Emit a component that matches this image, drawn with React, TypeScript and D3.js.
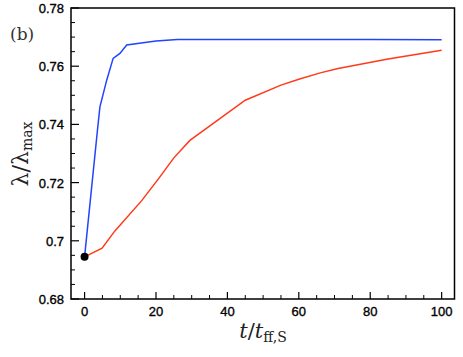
import React from 'react';
import * as d3 from 'd3';

// values
const blueT = [0, 3.6, 4.3, 6.2, 8.0, 9.9, 11.8, 20, 26, 40, 60, 80, 100];
const blueV = [0.6945, 0.7379, 0.746, 0.7552, 0.7627, 0.7644, 0.7673, 0.7687, 0.7692, 0.7692, 0.7692, 0.7692, 0.7691];

const redT = [0, 4.9, 8.5, 16, 21, 25, 29.5, 45, 55, 60, 66, 71, 85, 100];
const redV = [0.6945, 0.6975, 0.7034, 0.7138, 0.7218, 0.7285, 0.7345, 0.7483, 0.7535, 0.7555, 0.7577, 0.7592, 0.7625, 0.7655];

const xTicks = [0, 20, 40, 60, 80, 100];
const yTicks = [0.68, 0.7, 0.72, 0.74, 0.76, 0.78];
const yTickLabels = ['0.68', '0.7', '0.72', '0.74', '0.76', '0.78'];

const startPoint = { t: 0, v: 0.6945 };

const W = 463;
const H = 357;
const left = 71, right = 454.5, top = 8, bottom = 299;

export default function App() {
  const x = d3.scaleLinear().domain([-3.8, 103.6]).range([left, right]);
  const y = d3.scaleLinear().domain([0.68, 0.78]).range([bottom, top]);

  const line = d3.line<[number, number]>()
    .x(d => x(d[0]))
    .y(d => y(d[1]));

  const blue = blueT.map((t, i) => [t, blueV[i]] as [number, number]);
  const red = redT.map((t, i) => [t, redV[i]] as [number, number]);

  const xMinor = d3.range(5, 100, 5).filter(v => v % 20 !== 0);
  const yMinor = d3.range(0, 20).map(i => 0.68 + i * 0.005).filter((v, i) => i % 4 !== 0);

  const tickFont = 'Liberation Sans, Arial, sans-serif';
  const serif = 'DejaVu Serif, Liberation Serif, serif';

  return (
    <svg width={W} height={H} style={{ position: 'absolute', left: 0, top: 0, background: '#fff' }}>
      {/* ticks */}
      {xTicks.map(t => (
        <line key={'xt' + t} x1={x(t)} x2={x(t)} y1={bottom} y2={bottom - 7} stroke="#000" strokeWidth={1.2} />
      ))}
      {xMinor.map(t => (
        <line key={'xm' + t} x1={x(t)} x2={x(t)} y1={bottom} y2={bottom - 4} stroke="#000" strokeWidth={1} />
      ))}
      {yTicks.map(v => (
        <line key={'yt' + v} x1={left} x2={left + 8} y1={y(v)} y2={y(v)} stroke="#000" strokeWidth={1.2} />
      ))}
      {yMinor.map(v => (
        <line key={'ym' + v} x1={left} x2={left + 4} y1={y(v)} y2={y(v)} stroke="#000" strokeWidth={1} />
      ))}

      {/* tick labels */}
      {xTicks.map(t => (
        <text key={'xl' + t} x={x(t)} y={bottom + 17} textAnchor="middle" fontFamily={tickFont} fontSize={13} fill="#000" stroke="#000" strokeWidth={0.35}>{t}</text>
      ))}
      {yTicks.map((v, i) => (
        <text key={'yl' + v} x={left - 7} y={y(v) + 5} textAnchor="end" fontFamily={tickFont} fontSize={13} fill="#000" stroke="#000" strokeWidth={0.35}>{yTickLabels[i]}</text>
      ))}

      {/* series */}
      <path d={line(red) ?? ''} fill="none" stroke="#ff3a1a" strokeWidth={1.5} />
      <path d={line(blue) ?? ''} fill="none" stroke="#2244ff" strokeWidth={1.5} />
      <circle cx={x(startPoint.t)} cy={y(startPoint.v)} r={4} fill="#000" />

      {/* frame */}
      <rect x={left} y={top} width={right - left} height={bottom - top} fill="none" stroke="#000" strokeWidth={1.5} />

      {/* panel label */}
      <text x={10} y={40} fontFamily={serif} fontSize={17} fill="#333">(b)</text>

      {/* axis labels */}
      <text x={263} y={338} textAnchor="middle" fontFamily={serif} fill="#222">
        <tspan fontStyle="italic" fontSize={21}>t</tspan>
        <tspan fontSize={21}>/</tspan>
        <tspan fontStyle="italic" fontSize={21}>t</tspan>
        <tspan fontSize={14} dy={4}>ff,S</tspan>
      </text>
      <text transform="translate(28,154) rotate(-90)" textAnchor="middle" fontFamily={serif} fill="#222">
        <tspan fontSize={22}>λ/λ</tspan>
        <tspan fontSize={14} dy={4}>max</tspan>
      </text>
    </svg>
  );
}
